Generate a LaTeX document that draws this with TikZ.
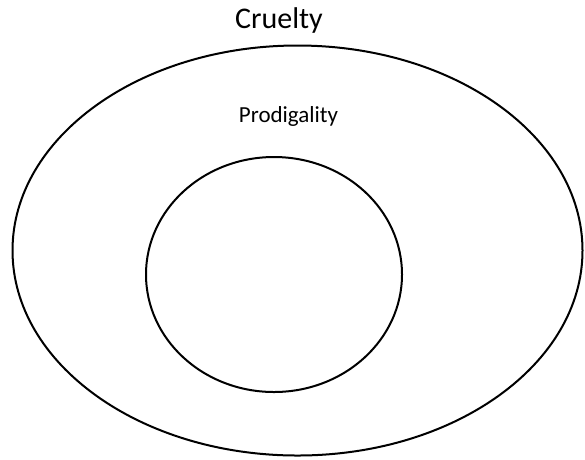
\documentclass[tikz,border=0pt]{standalone}
\usepackage{fontspec}
\setmainfont{Carlito}
\usetikzlibrary{positioning}

\begin{document}
\begin{tikzpicture}[x=1pt,y=-1pt]
 \useasboundingbox (0,0) rectangle (585,459);
 %SETS
 \draw[line width=2pt] (297.5,250.5) ellipse (285 and 205);
 \draw[line width=2pt] (274,274.5) ellipse (128 and 117.5);
 %LABELS
 \node[anchor=base] (cruelty) at (279,28.5) {\fontsize{30}{36}\selectfont Cruelty};
 \node[anchor=base] (prodigality) at (288.5,122) {\fontsize{23}{28}\selectfont Prodigality};
\end{tikzpicture}
\end{document}
